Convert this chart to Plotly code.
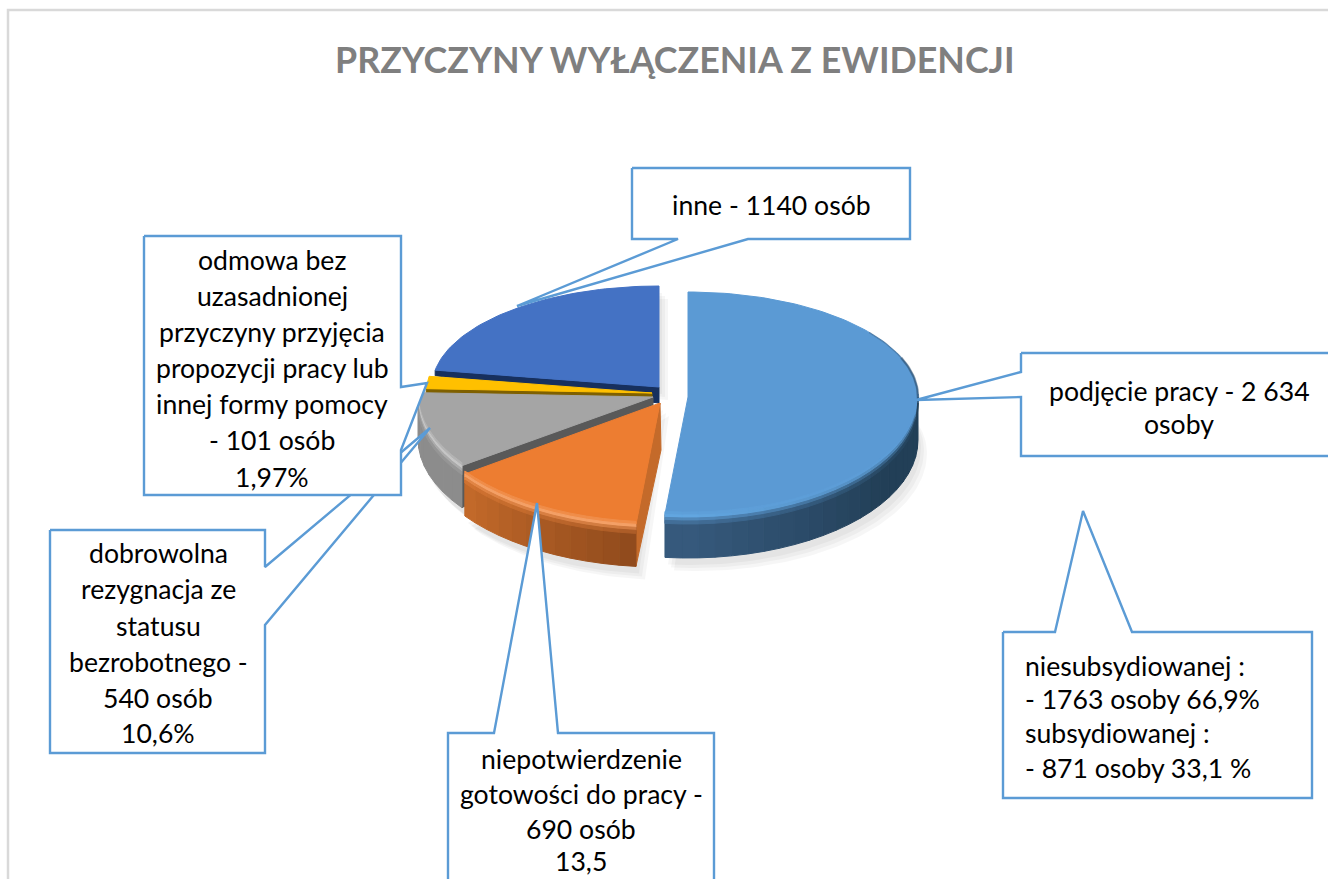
import math
import plotly.graph_objects as go

# ---------- data ----------
categories = ["podjęcie pracy", "niepotwierdzenie gotowości do pracy",
              "dobrowolna rezygnacja ze statusu bezrobotnego",
              "odmowa bez uzasadnionej przyczyny", "inne"]
values = [2634, 690, 540, 101, 1140]
face_colors = ["#5b9ad4", "#ed7d31", "#a5a5a5", "#ffc000", "#4472c4"]
wall_left = ["#36597c", "#c46a2a", "#8c8c8c", "#7f6000", "#17305e"]
wall_right = ["#223f57", "#8f4a1c", "#8c8c8c", "#7f6000", "#17305e"]
highlight = ["#62a6e0", "#f4a066", "#c6c6c6", "#ffc000", "#4472c4"]
cut_colors = [None, "#c46a2a", "#595959", "#7f6000", "#17305e"]

title_text = "PRZYCZYNY WYŁĄCZENIA Z EWIDENCJI"
label_inne = ["inne - 1140 osób"]
label_odmowa = ["odmowa bez", "uzasadnionej", "przyczyny przyjęcia", "propozycji pracy lub",
                "innej formy pomocy", "- 101 osób", "1,97%"]
label_dobrowolna = ["dobrowolna", "rezygnacja ze", "statusu", "bezrobotnego -", "540 osób", "10,6%"]
label_niepotw = ["niepotwierdzenie", "gotowości do pracy -", "690 osób", "13,5"]
label_podjecie = ["podjęcie pracy - 2 634", "osoby"]
label_niesub = ["niesubsydiowanej :", "- 1763 osoby 66,9%", "subsydiowanej :", "- 871 osoby 33,1 %"]

# ---------- projected-pie geometry (canvas pixels): cx, cy, R, ry up, ry down, depth ----------
geom = [(688, 397, 230, 105, 118, 43),
        (660, 403, 240, 105, 122, 42),
        (653, 397, 235, 100, 118, 42),
        (652, 393, 226, 100, 100, 5),
        (659, 387, 227, 101, 101, 16)]

total = sum(values)
bounds = [0.0]
for v in values:
    bounds.append(bounds[-1] + v / total * 360.0)


def pt(g, a, dy=0.0, k=1.0):
    cx, cy, R, ru, rd, _ = g
    r = math.radians(a)
    c = math.cos(r)
    return cx + k * R * math.sin(r), cy - k * c * (ru if c > 0 else rd) + dy


def arc(g, a0, a1, dy=0.0, k=1.0, step=1.5):
    n = max(2, int(abs(a1 - a0) / step) + 1)
    return [pt(g, a0 + (a1 - a0) * i / (n - 1), dy, k) for i in range(n)]


def mix(c1, c2, t):
    a = [int(c1[i:i + 2], 16) for i in (1, 3, 5)]
    b = [int(c2[i:i + 2], 16) for i in (1, 3, 5)]
    return "#%02x%02x%02x" % tuple(round(x + (y - x) * t) for x, y in zip(a, b))


fig = go.Figure()


def poly(points, fill, line=None, width=1.0):
    xs = [p[0] for p in points]
    ys = [p[1] for p in points]
    fig.add_trace(go.Scatter(x=xs + xs[:1], y=ys + ys[:1], mode="lines", fill="toself",
                             fillcolor=fill, line=dict(color=line or fill, width=width if line or not fill.startswith("rgba") else 0),
                             hoverinfo="skip", showlegend=False))


def stroke(points, color, width=2.0, opacity=1.0):
    fig.add_trace(go.Scatter(x=[p[0] for p in points], y=[p[1] for p in points], mode="lines",
                             line=dict(color=color, width=width), opacity=opacity,
                             hoverinfo="skip", showlegend=False))


# frame of the chart area
stroke([(8, 879), (8, 10), (1328, 10)], "#d9d9d9", 2.5)

# soft shadows
for i, (ox, oy) in enumerate([(9, 13), (6, 10), (3, 7)]):
    for s in (0, 1, 2, 4):
        g = geom[s]
        a0, a1 = bounds[s], bounds[s + 1]
        pts = [(g[0] + ox, g[1] + oy)] + [(x + ox, y + oy + (g[5] if s != 4 else 0)) for x, y in arc(g, a0, a1)]
        poly(pts, "rgba(0,0,0,0.035)", "rgba(0,0,0,0)", 0)

# draw back slices first
for s in (4, 3, 2, 1, 0):
    g = geom[s]
    a0, a1 = bounds[s], bounds[s + 1]
    depth = g[5]
    face, hl = face_colors[s], highlight[s]

    # radial cut walls that face the viewer
    apex = (g[0], g[1])
    if s == 4:
        e = pt(g, a0)
        poly([apex, e, (e[0], e[1] + depth * 0.35), (apex[0], apex[1] + depth)], cut_colors[s])
    elif s == 3:
        e = pt(g, a0)
        poly([apex, e, (e[0], e[1] + depth), (apex[0], apex[1] + depth)], cut_colors[s])
    elif s == 2:
        e = pt(g, a0)
        poly([apex, e, (e[0], e[1] + depth), (apex[0], apex[1] + 8)], cut_colors[s])
    elif s == 1:
        e = pt(g, a0)
        poly([apex, e, (e[0], e[1] + depth), (apex[0] + 1, apex[1] + 47)], cut_colors[s])

    # outer wall, lower half only, in small graded strips
    lo, hi = max(a0, 90), min(a1, 270)
    if hi > lo and s < 3:
        n = max(1, int((hi - lo) / 4))
        for i in range(n):
            b0 = lo + (hi - lo) * i / n
            b1 = lo + (hi - lo) * (i + 1) / n
            t = ((180 - (b0 + b1) / 2) / 90) if s == 0 else ((a0 + 48 - (b0 + b1) / 2) / 48)
            col = mix(wall_left[s], wall_right[s], max(0, min(1, t * 1.6 if s == 0 else t)))
            top = arc(g, b0, b1, 0, step=2)
            bot = arc(g, b1, b0, depth, step=2)
            poly(top + bot, col)

    # top face
    poly([apex] + arc(g, a0, a1), face)

    # bevel on the rim
    if hi > lo and s < 3:
        n = max(1, int((hi - lo) / 4))
        bands = [(-3, 0, 0.45, 0), (0, 3, 1.0, 0), (3, 6, 0.65, 0.35), (6, 9, 0.3, 0.7)]
        for d0, d1, th, tw in bands:
            for i in range(n):
                b0 = lo + (hi - lo) * i / n
                b1 = lo + (hi - lo) * (i + 1) / n
                m = (b0 + b1) / 2
                t = ((180 - m) / 90) if s == 0 else ((a0 + 48 - m) / 48)
                wc = mix(wall_left[s], wall_right[s], max(0, min(1, t * 1.6 if s == 0 else t)))
                base = mix(face, hl, th * (max(0.0, 1 - t) if s == 0 else 1.0))
                if s == 0:
                    dark = max(0.0, min(1.0, t))
                    base = mix(base, wc, dark * (d0 + 3) / 9.0)
                col = mix(base, wc, tw)
                poly(arc(g, b0, b1, d0, step=2) + arc(g, b1, b0, d1, step=2), col)

    if s == 0:
        # dark fine edge over the upper right of the rim
        for a, wid, op in [(52, 1.5, 0.35), (68, 2.5, 0.45)]:
            stroke(arc(g, a, 92), "#2a4a68", wid, op)


# ---------- callouts ----------
def callout(points, fill="#ffffff"):
    poly(points, fill, "#5b9bd5", 2.4)


callout([(448, 900), (448, 733), (494, 733), (537, 503), (558, 733), (714, 733), (714, 900)])
callout([(50, 530), (265, 530), (265, 567), (430, 428), (265, 625), (265, 753), (50, 753)])
callout([(144, 236), (401, 236), (401, 387), (427, 383), (401, 450), (401, 495), (144, 495)])
callout([(632, 168), (910, 168), (910, 239), (748, 239), (517, 306), (678, 239), (632, 239)])
callout([(1021, 353), (1340, 353), (1340, 456), (1021, 456), (1021, 397), (916, 400), (1021, 372)])
callout([(1003, 632), (1055, 632), (1083, 511), (1132, 632), (1312, 632), (1312, 798), (1003, 798)])

# ---------- text ----------
FONT = "Lato"
SIZE = 26.6


def text_block(lines, x, ys, anchor="center"):
    for line, y in zip(lines, ys):
        fig.add_annotation(x=x, y=y, xref="x", yref="y", text=line, showarrow=False, xanchor=anchor,
                           yanchor="middle", font=dict(family=FONT, size=SIZE, color="#000000"))


text_block(label_inne, 771, [205])
text_block(label_odmowa, 272, [260, 296, 332, 368, 404, 440, 477])
text_block(label_dobrowolna, 158, [553, 589, 626, 662, 698, 733])
text_block(label_niepotw, 581, [759, 794, 829, 861])
text_block(label_podjecie, 1179, [391, 424])
text_block(label_niesub, 1023, [666, 699, 733, 768], "left")

fig.add_annotation(x=675, y=59, xref="x", yref="y", text="<b>%s</b>" % title_text, showarrow=False,
                   xanchor="center", yanchor="middle", font=dict(family=FONT, size=35.8, color="#7f7f7f"))

fig.update_layout(width=1328, height=879, margin=dict(l=0, r=0, t=0, b=0),
                  paper_bgcolor="#ffffff", plot_bgcolor="#ffffff", showlegend=False,
                  xaxis=dict(range=[0, 1328], visible=False, fixedrange=True),
                  yaxis=dict(range=[879, 0], visible=False, fixedrange=True))

fig.write_html("out.html", config={"displayModeBar": False},
               post_script="document.body.style.margin='0';document.body.style.overflow='hidden';")
